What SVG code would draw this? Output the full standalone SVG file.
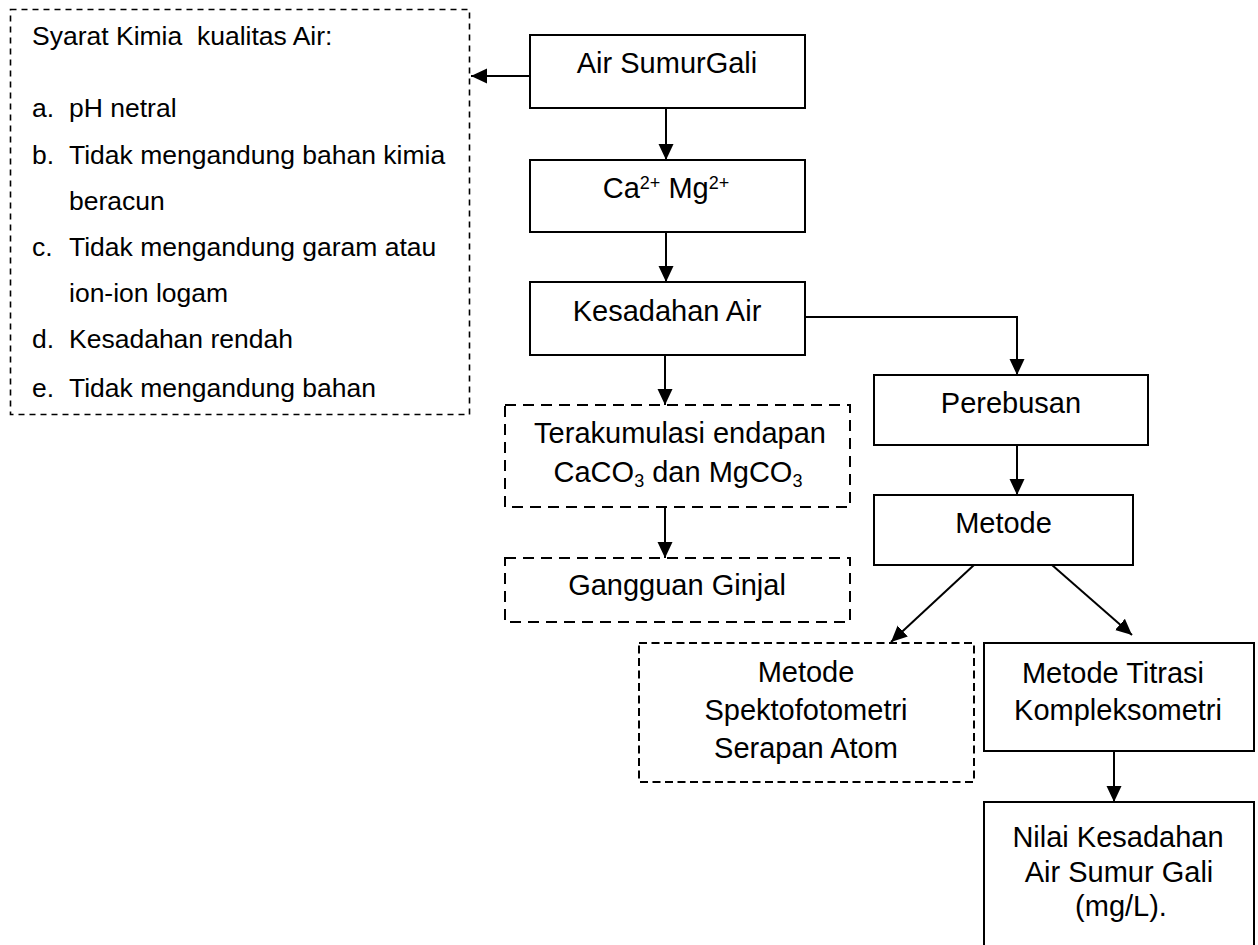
<svg xmlns="http://www.w3.org/2000/svg" width="1258" height="945" viewBox="0 0 1258 945">
<defs>
<marker id="ah" markerWidth="18" markerHeight="18" viewBox="0 0 18 18" refX="16" refY="9" orient="auto" markerUnits="userSpaceOnUse">
<path d="M0,1.5 L16,9 L0,16.5 Z" fill="#000"/>
</marker>
<style>
.t{font-family:"Liberation Sans",Arial,sans-serif;font-size:29px;fill:#000;text-anchor:middle}
.l{font-family:"Liberation Sans",Arial,sans-serif;font-size:26.5px;fill:#000}
.box{fill:#fff;stroke:#000;stroke-width:2}
.d1{fill:#fff;stroke:#000;stroke-width:1.6;stroke-dasharray:6 5}
.d2{fill:#fff;stroke:#000;stroke-width:2;stroke-dasharray:11 7}
.d3{fill:#fff;stroke:#000;stroke-width:2;stroke-dasharray:8 4.5}
.c{fill:none;stroke:#000;stroke-width:2;marker-end:url(#ah)}
</style>
</defs>
<rect width="1258" height="945" fill="#fff"/>

<g id="syarat">
<rect class="d1" x="10.5" y="9.5" width="459" height="405"/>
<text class="l" x="32" y="45">Syarat Kimia&#160; kualitas Air:</text>
<text class="l" x="32" y="117">a.</text><text class="l" x="69" y="117">pH netral</text>
<text class="l" x="32" y="164">b.</text><text class="l" x="69" y="164">Tidak mengandung bahan kimia</text>
<text class="l" x="69" y="210">beracun</text>
<text class="l" x="32" y="256">c.</text><text class="l" x="69" y="256">Tidak mengandung garam atau</text>
<text class="l" x="69" y="302">ion-ion logam</text>
<text class="l" x="32" y="348">d.</text><text class="l" x="69" y="348">Kesadahan rendah</text>
<text class="l" x="32" y="397">e.</text><text class="l" x="69" y="397">Tidak mengandung bahan</text>
</g>

<g id="air">
<rect class="box" x="530" y="35" width="275" height="73"/>
<text class="t" x="667" y="73">Air SumurGali</text>
</g>

<g id="ion">
<rect class="box" x="530" y="160" width="275" height="72"/>
<text class="t" x="666" y="198">Ca<tspan font-size="18" dy="-9">2+</tspan><tspan dy="9"> Mg</tspan><tspan font-size="18" dy="-9">2+</tspan></text>
</g>

<g id="kesadahan">
<rect class="box" x="530" y="282" width="275" height="73"/>
<text class="t" x="667" y="321">Kesadahan Air</text>
</g>

<g id="terakumulasi">
<rect class="d2" x="505" y="405" width="345" height="102"/>
<text class="t" x="680" y="443">Terakumulasi endapan</text>
<text class="t" x="678" y="482">CaCO<tspan font-size="18" dy="5">3</tspan><tspan dy="-5"> dan MgCO</tspan><tspan font-size="18" dy="5">3</tspan></text>
</g>

<g id="ginjal">
<rect class="d2" x="505" y="558" width="345" height="64"/>
<text class="t" x="677" y="595">Gangguan Ginjal</text>
</g>

<g id="perebusan">
<rect class="box" x="874" y="375" width="274" height="70"/>
<text class="t" x="1011" y="413">Perebusan</text>
</g>

<g id="metode">
<rect class="box" x="874" y="495" width="259" height="70"/>
<text class="t" x="1003.5" y="533">Metode</text>
</g>

<g id="spektro">
<rect class="d3" x="639" y="643" width="335" height="139"/>
<text class="t" x="806" y="682">Metode</text>
<text class="t" x="806" y="720">Spektofotometri</text>
<text class="t" x="806" y="758">Serapan Atom</text>
</g>

<g id="titrasi">
<rect class="box" x="984" y="643" width="270" height="108"/>
<text class="t" x="1113" y="683">Metode Titrasi</text>
<text class="t" x="1118" y="720">Kompleksometri</text>
</g>

<g id="nilai">
<rect class="box" x="984" y="802" width="270" height="160"/>
<text class="t" x="1118" y="847">Nilai Kesadahan</text>
<text class="t" x="1119" y="882">Air Sumur Gali</text>
<text class="t" x="1121" y="916">(mg/L).</text>
</g>

<g id="connectors">
<path class="c" d="M530,76 L471,76"/>
<path class="c" d="M666,108 L666,160"/>
<path class="c" d="M666,232 L666,282"/>
<path class="c" d="M665,355 L665,405"/>
<path class="c" d="M665,507 L665,558"/>
<path class="c" d="M805,317 L1017,317 L1017,375"/>
<path class="c" d="M1017,445 L1017,495"/>
<path class="c" d="M974,565 L891,642"/>
<path class="c" d="M1052,565 L1132,635"/>
<path class="c" d="M1114,751 L1114,802"/>
</g>
</svg>
